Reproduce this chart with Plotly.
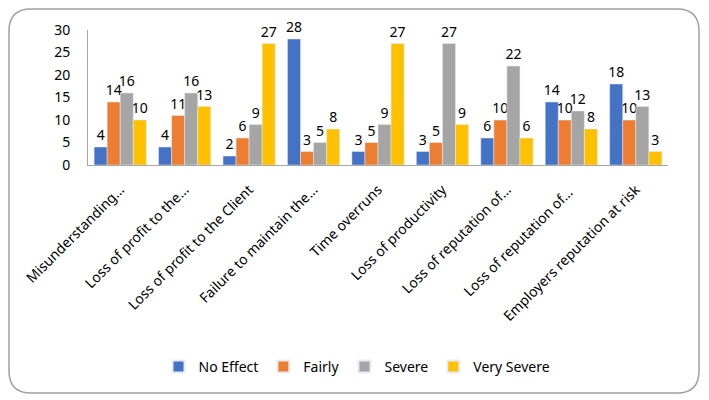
import plotly.graph_objects as go

categories = ["Misunderstanding…", "Loss of profit to the…", "Loss of profit to the Client",
              "Failure to maintain the…", "Time overruns", "Loss of productivity",
              "Loss of reputation of…", "Loss of reputation of… ", "Employers reputation at risk"]
no_effect = [4, 4, 2, 28, 3, 3, 6, 14, 18]
fairly = [14, 11, 6, 3, 5, 5, 10, 10, 10]
severe = [16, 16, 9, 5, 9, 27, 22, 12, 13]
very_severe = [10, 13, 27, 8, 27, 9, 6, 8, 3]
series_names = ["No Effect", "Fairly", "Severe", "Very Severe"]
colors = ["#4472C4", "#ED7D31", "#A5A5A5", "#FFC000"]

# page body has an 8px margin, so the figure is drawn from (8, 8)
OFF = 8
W, H = 709 - OFF, 400 - OFF
L, T = 88 - OFF, 30 - OFF
R = W - (668 - OFF)
B = H - (165 - OFF)
pw, ph = W - L - R, H - T - B

fig = go.Figure()
for name, vals, c in zip(series_names, [no_effect, fairly, severe, very_severe], colors):
    fig.add_trace(go.Bar(
        x=categories, y=vals, name=name, marker_color=c,
        text=vals, textposition="outside", cliponaxis=False, constraintext="none",
        textfont=dict(size=14, color="#000000"),
    ))

def px_x(x):
    return (x - OFF - L) / pw

def px_y(y):
    return (H - B - (y - OFF)) / ph

# rounded border (reference pixel coords)
x0, x1, y0, y1, r = 9, 699, 9, 393, 22
path = (f"M {px_x(x0 + r)} {px_y(y0)} L {px_x(x1 - r)} {px_y(y0)} "
        f"Q {px_x(x1)} {px_y(y0)} {px_x(x1)} {px_y(y0 + r)} "
        f"L {px_x(x1)} {px_y(y1 - r)} Q {px_x(x1)} {px_y(y1)} {px_x(x1 - r)} {px_y(y1)} "
        f"L {px_x(x0 + r)} {px_y(y1)} Q {px_x(x0)} {px_y(y1)} {px_x(x0)} {px_y(y1 - r)} "
        f"L {px_x(x0)} {px_y(y0 + r)} Q {px_x(x0)} {px_y(y0)} {px_x(x0 + r)} {px_y(y0)} Z")
fig.add_shape(type="path", path=path, xref="paper", yref="paper",
              line=dict(color="#A0A0A0", width=1.5), layer="below")

fig.update_layout(
    width=W, height=H,
    margin=dict(l=L, r=R, t=T, b=B, pad=0, autoexpand=False),
    paper_bgcolor="white", plot_bgcolor="white",
    font=dict(family="Noto Sans", size=13, color="#000000"),
    barmode="group", bargap=0.19, bargroupgap=0,
    showlegend=True,
    legend=dict(orientation="h", x=px_x(357), xanchor="center", y=px_y(367), yanchor="middle",
                font=dict(size=14), itemsizing="constant", itemwidth=30, traceorder="normal"),
    xaxis=dict(tickangle=-45, showline=True, linecolor="#A6A6A6", linewidth=1, automargin=False,
               ticks="", showgrid=False, tickfont=dict(size=14), ticklabelstandoff=10),
    yaxis=dict(range=[0, 30], dtick=5, showline=True, linecolor="#A6A6A6", linewidth=1,
               automargin=False, ticks="", showgrid=False, zeroline=False, tickfont=dict(size=14),
               ticklabelstandoff=14),
)
fig.write_html("out.html")
